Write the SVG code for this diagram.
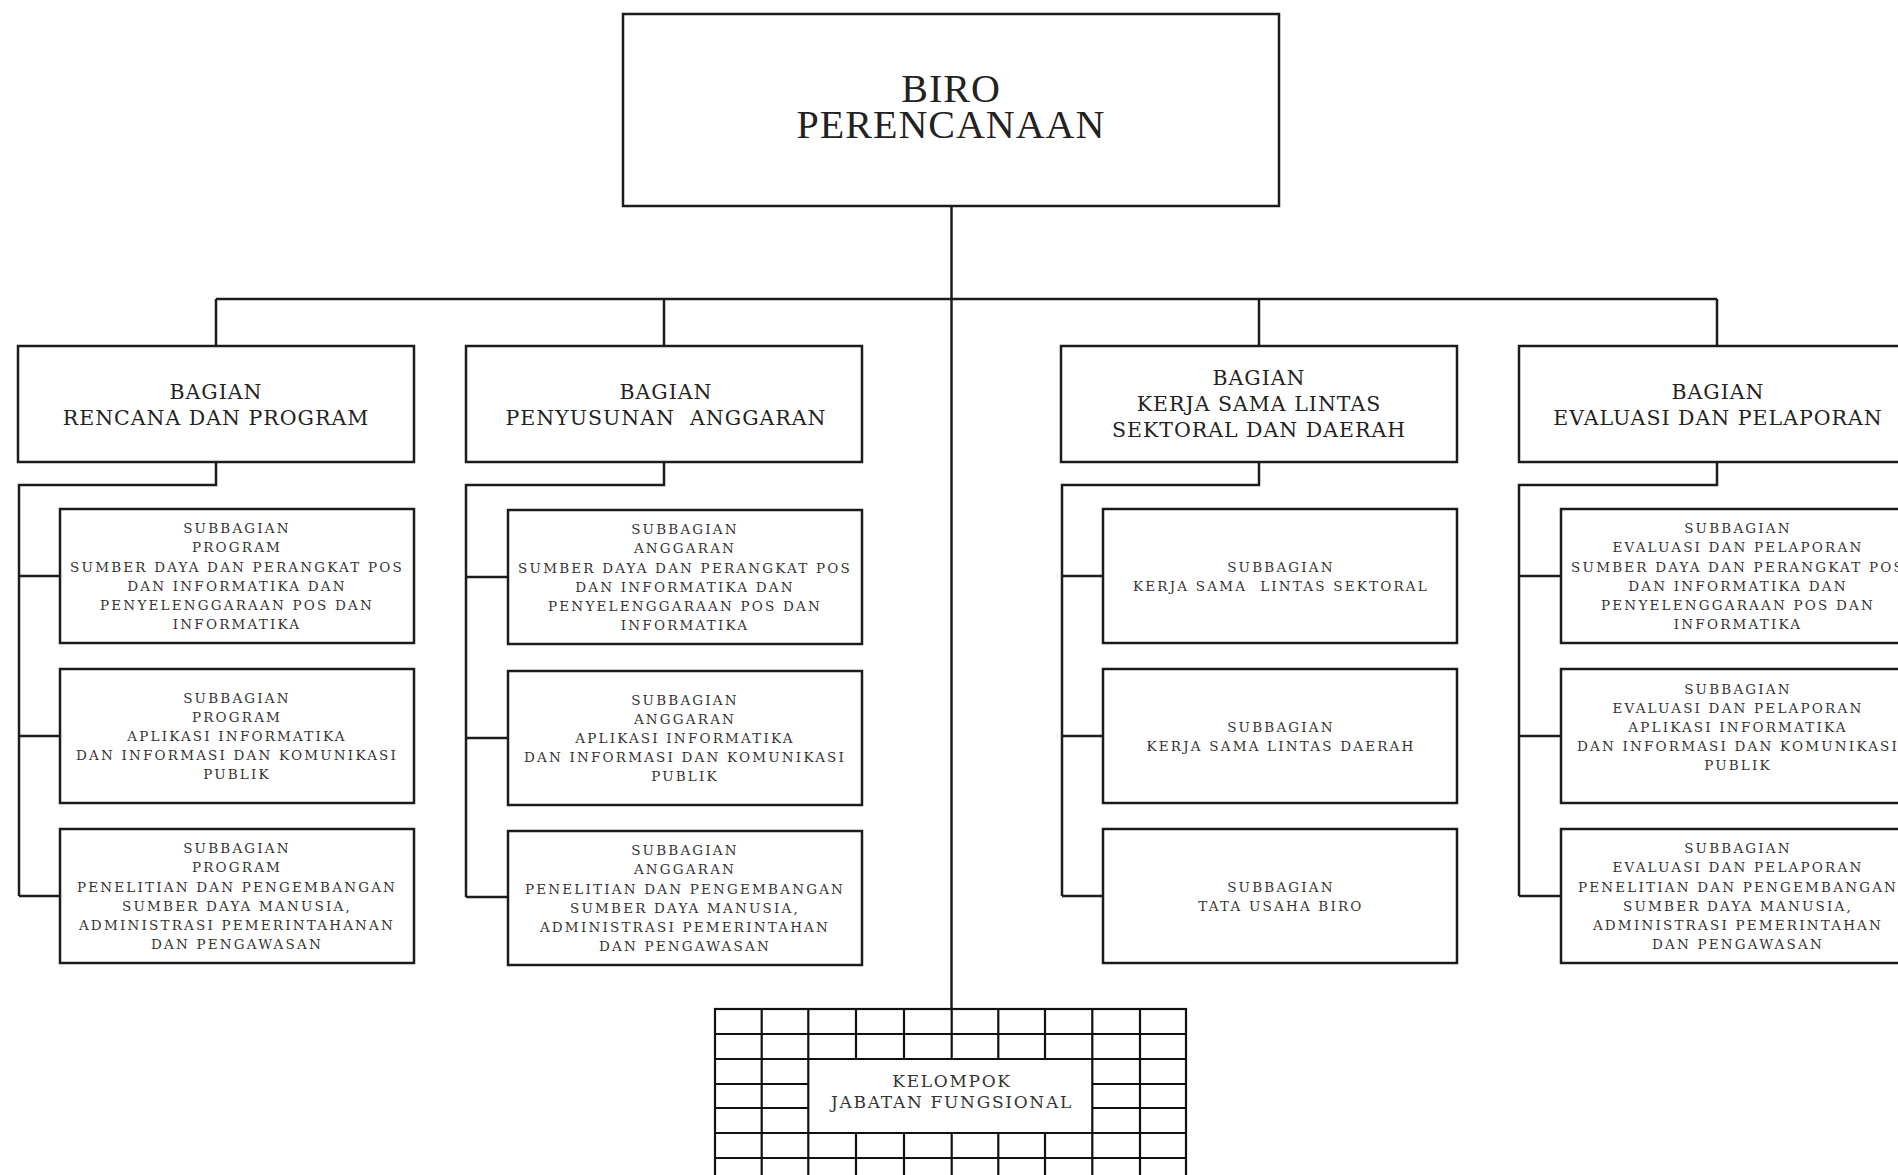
<svg xmlns="http://www.w3.org/2000/svg" width="1898" height="1175" viewBox="0 0 1898 1175">
<style>
.box{fill:#fff;stroke:#1c1c1c;stroke-width:2.5}
.ln{fill:none;stroke:#1c1c1c;stroke-width:2.5}
.gl{fill:none;stroke:#111;stroke-width:2.2}
text{fill:#222;text-anchor:middle}
.t1{font-family:"Liberation Serif",serif;font-size:40px;letter-spacing:1px}
.t2{font-family:"DejaVu Serif",serif;font-size:20.5px;letter-spacing:1px}
.t3{font-family:"DejaVu Serif",serif;font-size:13.5px;letter-spacing:2.2px;fill:#333}
.t4{font-family:"DejaVu Serif",serif;font-size:17px;letter-spacing:1.7px;fill:#333}
</style>
<rect width="1898" height="1175" fill="#fff"/>

<g id="connectors">
  <path class="ln" d="M951.5 206 V1009"/>
  <path class="ln" d="M216 299 H1717"/>
  <path class="ln" d="M216 299 V346 M664 299 V346 M1259 299 V346 M1717 299 V346"/>
  <path class="ln" d="M216 462 V485 H19 V896 M19 576 H60 M19 736 H60 M19 896 H60"/>
  <path class="ln" d="M664 462 V485 H466 V897 M466 577 H508 M466 738 H508 M466 897 H508"/>
  <path class="ln" d="M1259 462 V485 H1062 V896 M1062 576 H1103 M1062 736 H1103 M1062 896 H1103"/>
  <path class="ln" d="M1717 462 V485 H1519 V896 M1519 576 H1561 M1519 736 H1561 M1519 896 H1561"/>
</g>

<g id="biro">
  <rect class="box" x="623" y="14" width="656" height="192"/>
  <text class="t1"><tspan x="951" y="101.7">BIRO</tspan><tspan x="951" y="137.7">PERENCANAAN</tspan></text>
</g>

<g id="bagian-rencana">
  <rect class="box" x="18" y="346" width="396" height="116"/>
  <text class="t2"><tspan x="216" y="398.5">BAGIAN</tspan><tspan x="216" y="425">RENCANA DAN PROGRAM</tspan></text>
</g>
<g id="bagian-anggaran">
  <rect class="box" x="466" y="346" width="396" height="116"/>
  <text class="t2"><tspan x="666" y="398.5">BAGIAN</tspan><tspan x="666" y="424.5" xml:space="preserve">PENYUSUNAN  ANGGARAN</tspan></text>
</g>
<g id="bagian-kerjasama">
  <rect class="box" x="1061" y="346" width="396" height="116"/>
  <text class="t2"><tspan x="1259" y="385">BAGIAN</tspan><tspan x="1259" y="411">KERJA SAMA LINTAS</tspan><tspan x="1259" y="437">SEKTORAL DAN DAERAH</tspan></text>
</g>
<g id="bagian-evaluasi">
  <rect class="box" x="1519" y="346" width="396" height="116"/>
  <text class="t2"><tspan x="1718" y="398.5">BAGIAN</tspan><tspan x="1718" y="425">EVALUASI DAN PELAPORAN</tspan></text>
</g>

<g id="sub-program-sdppi">
  <rect class="box" x="60" y="509" width="354" height="134"/>
  <text class="t3"><tspan x="237" y="533.3">SUBBAGIAN</tspan><tspan x="237" y="552.4">PROGRAM</tspan><tspan x="237" y="571.5">SUMBER DAYA DAN PERANGKAT POS</tspan><tspan x="237" y="590.6">DAN INFORMATIKA DAN</tspan><tspan x="237" y="609.7">PENYELENGGARAAN POS DAN</tspan><tspan x="237" y="628.8">INFORMATIKA</tspan></text>
</g>
<g id="sub-program-aptika">
  <rect class="box" x="60" y="669" width="354" height="134"/>
  <text class="t3"><tspan x="237" y="702.8">SUBBAGIAN</tspan><tspan x="237" y="721.9">PROGRAM</tspan><tspan x="237" y="741">APLIKASI INFORMATIKA</tspan><tspan x="237" y="760.1">DAN INFORMASI DAN KOMUNIKASI</tspan><tspan x="237" y="779.2">PUBLIK</tspan></text>
</g>
<g id="sub-program-litbang">
  <rect class="box" x="60" y="829" width="354" height="134"/>
  <text class="t3"><tspan x="237" y="853.3">SUBBAGIAN</tspan><tspan x="237" y="872.4">PROGRAM</tspan><tspan x="237" y="891.5">PENELITIAN DAN PENGEMBANGAN</tspan><tspan x="237" y="910.6">SUMBER DAYA MANUSIA,</tspan><tspan x="237" y="929.7">ADMINISTRASI PEMERINTAHANAN</tspan><tspan x="237" y="948.8">DAN PENGAWASAN</tspan></text>
</g>

<g id="sub-anggaran-sdppi">
  <rect class="box" x="508" y="510" width="354" height="134"/>
  <text class="t3"><tspan x="685" y="534.3">SUBBAGIAN</tspan><tspan x="685" y="553.4">ANGGARAN</tspan><tspan x="685" y="572.5">SUMBER DAYA DAN PERANGKAT POS</tspan><tspan x="685" y="591.6">DAN INFORMATIKA DAN</tspan><tspan x="685" y="610.7">PENYELENGGARAAN POS DAN</tspan><tspan x="685" y="629.8">INFORMATIKA</tspan></text>
</g>
<g id="sub-anggaran-aptika">
  <rect class="box" x="508" y="671" width="354" height="134"/>
  <text class="t3"><tspan x="685" y="704.8">SUBBAGIAN</tspan><tspan x="685" y="723.9">ANGGARAN</tspan><tspan x="685" y="743">APLIKASI INFORMATIKA</tspan><tspan x="685" y="762.1">DAN INFORMASI DAN KOMUNIKASI</tspan><tspan x="685" y="781.2">PUBLIK</tspan></text>
</g>
<g id="sub-anggaran-litbang">
  <rect class="box" x="508" y="831" width="354" height="134"/>
  <text class="t3"><tspan x="685" y="855.3">SUBBAGIAN</tspan><tspan x="685" y="874.4">ANGGARAN</tspan><tspan x="685" y="893.5">PENELITIAN DAN PENGEMBANGAN</tspan><tspan x="685" y="912.6">SUMBER DAYA MANUSIA,</tspan><tspan x="685" y="931.7">ADMINISTRASI PEMERINTAHAN</tspan><tspan x="685" y="950.8">DAN PENGAWASAN</tspan></text>
</g>

<g id="sub-kerjasama-sektoral">
  <rect class="box" x="1103" y="509" width="354" height="134"/>
  <text class="t3"><tspan x="1281" y="571.5">SUBBAGIAN</tspan><tspan x="1281" y="591" xml:space="preserve">KERJA SAMA  LINTAS SEKTORAL</tspan></text>
</g>
<g id="sub-kerjasama-daerah">
  <rect class="box" x="1103" y="669" width="354" height="134"/>
  <text class="t3"><tspan x="1281" y="731.5">SUBBAGIAN</tspan><tspan x="1281" y="751">KERJA SAMA LINTAS DAERAH</tspan></text>
</g>
<g id="sub-tata-usaha">
  <rect class="box" x="1103" y="829" width="354" height="134"/>
  <text class="t3"><tspan x="1281" y="891.5">SUBBAGIAN</tspan><tspan x="1281" y="911">TATA USAHA BIRO</tspan></text>
</g>

<g id="sub-evaluasi-sdppi">
  <rect class="box" x="1561" y="509" width="354" height="134"/>
  <text class="t3"><tspan x="1738" y="533.3">SUBBAGIAN</tspan><tspan x="1738" y="552.4">EVALUASI DAN PELAPORAN</tspan><tspan x="1738" y="571.5">SUMBER DAYA DAN PERANGKAT POS</tspan><tspan x="1738" y="590.6">DAN INFORMATIKA DAN</tspan><tspan x="1738" y="609.7">PENYELENGGARAAN POS DAN</tspan><tspan x="1738" y="628.8">INFORMATIKA</tspan></text>
</g>
<g id="sub-evaluasi-aptika">
  <rect class="box" x="1561" y="669" width="354" height="134"/>
  <text class="t3"><tspan x="1738" y="694">SUBBAGIAN</tspan><tspan x="1738" y="713.1">EVALUASI DAN PELAPORAN</tspan><tspan x="1738" y="732.2">APLIKASI INFORMATIKA</tspan><tspan x="1738" y="751.3">DAN INFORMASI DAN KOMUNIKASI</tspan><tspan x="1738" y="770.4">PUBLIK</tspan></text>
</g>
<g id="sub-evaluasi-litbang">
  <rect class="box" x="1561" y="829" width="354" height="134"/>
  <text class="t3"><tspan x="1738" y="853.3">SUBBAGIAN</tspan><tspan x="1738" y="872.4">EVALUASI DAN PELAPORAN</tspan><tspan x="1738" y="891.5">PENELITIAN DAN PENGEMBANGAN</tspan><tspan x="1738" y="910.6">SUMBER DAYA MANUSIA,</tspan><tspan x="1738" y="929.7">ADMINISTRASI PEMERINTAHAN</tspan><tspan x="1738" y="948.8">DAN PENGAWASAN</tspan></text>
</g>

<g id="kelompok-jabatan-fungsional">
  <rect class="gl" x="715" y="1009" width="471" height="200" fill="#fff"/>
  <path class="gl" d="M761.7 1009 V1209 M808.3 1009 V1209 M1092.3 1009 V1209 M1140 1009 V1209"/>
  <path class="gl" d="M856 1009 V1059 M904 1009 V1059 M951.7 1009 V1059 M998.3 1009 V1059 M1045 1009 V1059"/>
  <path class="gl" d="M856 1133 V1209 M904 1133 V1209 M951.7 1133 V1209 M998.3 1133 V1209 M1045 1133 V1209"/>
  <path class="gl" d="M715 1034 H1186 M715 1059 H1186 M715 1133 H1186 M715 1158 H1186 M715 1183 H1186"/>
  <path class="gl" d="M715 1084 H808.3 M715 1108 H808.3 M1092.3 1084 H1186 M1092.3 1108 H1186"/>
  <text class="t4"><tspan x="952" y="1087.3">KELOMPOK</tspan><tspan x="952" y="1107.7">JABATAN FUNGSIONAL</tspan></text>
</g>
</svg>
